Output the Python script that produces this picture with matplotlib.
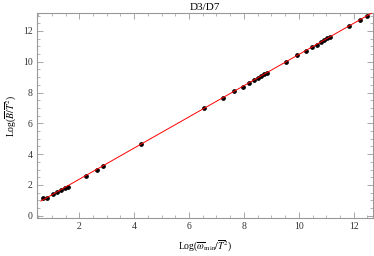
import numpy as np
import matplotlib
matplotlib.use('Agg')
import matplotlib.pyplot as plt
from matplotlib.ticker import MultipleLocator

# data
log_wmin = [0.69, 0.81, 1.03, 1.20, 1.34, 1.47, 1.58, 2.24, 2.63, 2.85, 4.26,
            6.54, 7.22, 7.64, 7.96, 8.17, 8.35, 8.50, 8.63, 8.75, 8.85,
            9.52, 9.93, 10.26, 10.48, 10.65, 10.81, 10.93, 11.02, 11.13,
            11.83, 12.23, 12.49]
log_b = [1.13, 1.17, 1.39, 1.54, 1.67, 1.78, 1.88, 2.58, 2.97, 3.25, 4.66,
         6.97, 7.66, 8.08, 8.38, 8.60, 8.79, 8.94, 9.07, 9.18, 9.29,
         9.98, 10.42, 10.69, 10.94, 11.10, 11.26, 11.39, 11.52, 11.62,
         12.30, 12.71, 12.99]
fit_slope = 1.012
fit_intercept = 0.35
fit_range = [0.6, 13.0]

plt.rcParams['font.family'] = ['Liberation Serif', 'DejaVu Serif']
plt.rcParams['mathtext.fontset'] = 'stix'

fig = plt.figure(figsize=(3.74, 2.56), dpi=100)
ax = fig.add_axes([0.099, 0.148, 0.898, 0.801])

ax.plot(log_wmin, log_b, 'o', color='black', markersize=2.4, zorder=2)
xf = np.array(fit_range)
ax.plot(xf, fit_slope * xf + fit_intercept, color='red', lw=0.7, zorder=3)

ax.set_xlim(0.46, 12.7)
ax.set_ylim(-0.15, 13.16)
ax.xaxis.set_major_locator(MultipleLocator(2))
ax.xaxis.set_minor_locator(MultipleLocator(0.5))
ax.yaxis.set_major_locator(MultipleLocator(2))
ax.yaxis.set_minor_locator(MultipleLocator(0.5))

gray = '#999999'
for s in ax.spines.values():
    s.set_color(gray)
    s.set_linewidth(0.8)
ax.tick_params(which='both', direction='in', top=True, right=True, color=gray,
               labelsize=7, labelcolor='#333333', pad=3)
ax.tick_params(which='major', length=4, width=0.6)
ax.tick_params(which='minor', length=2, width=0.5)

ax.set_title('D3/D7', fontsize=8, pad=2)
ax.set_xlabel(r'Log($\overline{\omega}_{\mathrm{min}}/\overline{T}^2$)', fontsize=7, labelpad=5)
ax.set_ylabel(r'Log($\overline{B}/\overline{T}^2$)', fontsize=7, labelpad=4)

fig.savefig('out.png', dpi=100)
